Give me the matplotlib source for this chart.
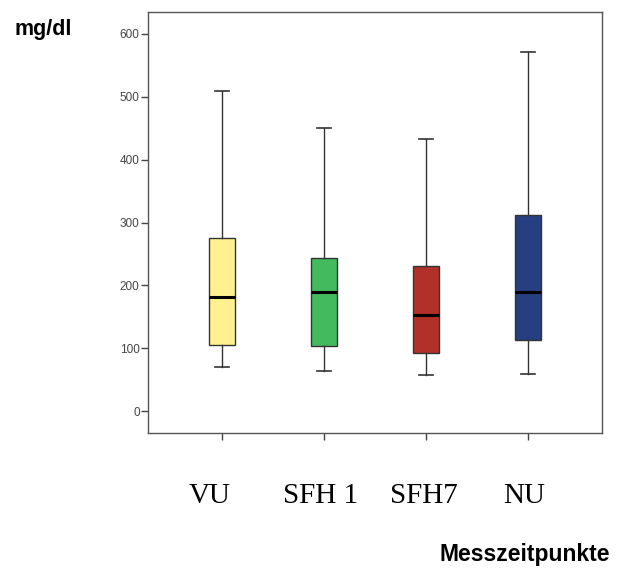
import matplotlib
matplotlib.use('Agg')
import matplotlib.pyplot as plt
from matplotlib.transforms import ScaledTranslation

# Boxplot summary per measurement time (mg/dl)
labels = ['VU', 'SFH 1', 'SFH7', 'NU']
whislo = [70, 64, 58, 59]
q1 = [105, 104, 93, 113]
med = [181, 190, 152, 189]
q3 = [275, 243, 230, 312]
whishi = [509, 450, 433, 571]
colors = ['#FFF18F', '#43BA5E', '#B1302A', '#263F80']
yticks = [0, 100, 200, 300, 400, 500, 600]

stats = []
for i in range(len(labels)):
    stats.append({'label': labels[i], 'whislo': whislo[i], 'q1': q1[i],
                  'med': med[i], 'q3': q3[i], 'whishi': whishi[i], 'fliers': []})

fig = plt.figure(figsize=(6.17, 5.68), dpi=100)
ax = fig.add_axes([148 / 617, 1 - 433 / 568, (602 - 148) / 617, (433 - 12) / 568])

bp = ax.bxp(stats, positions=[1, 2, 3, 4], widths=0.255, capwidths=0.13,
            patch_artist=True, showfliers=False,
            boxprops=dict(edgecolor='#333333', linewidth=1.0),
            whiskerprops=dict(color='#333333', linewidth=1.0),
            capprops=dict(color='#333333', linewidth=1.2),
            medianprops=dict(color='black', linewidth=2.2))
for patch, c in zip(bp['boxes'], colors):
    patch.set_facecolor(c)

ax.set_xlim(0.275, 4.725)
ax.set_ylim(-35, 635)
ax.set_yticks(yticks)
ax.set_yticklabels([str(v) for v in yticks], fontsize=8.5, color='#444444',
                   family='Liberation Sans')
ax.set_xticks([1, 2, 3, 4])
ax.set_xticklabels(labels, fontsize=21, family='Liberation Serif')
ax.tick_params(axis='x', length=5, width=1, color='#444444', pad=31)
ax.tick_params(axis='y', length=5, width=1, color='#444444', pad=1)
for sp in ax.spines.values():
    sp.set_color('#555555')
    sp.set_linewidth(1.0)

# category labels sit slightly left of their ticks
shifts = [-12, -3, -2, -4]
for lab, dx in zip(ax.get_xticklabels(), shifts):
    lab.set_transform(lab.get_transform() + ScaledTranslation(dx / 100, 0, fig.dpi_scale_trans))

fig.text(15 / 617, 1 - 29 / 568, 'mg/dl', fontsize=15.5, fontweight='bold',
         family='Liberation Sans', va='center', ha='left')
fig.text(610 / 617, 1 - 555 / 568, 'Messzeitpunkte', fontsize=16.5, fontweight='bold',
         family='Liberation Sans', va='center', ha='right')

fig.savefig('out.png', dpi=100)
